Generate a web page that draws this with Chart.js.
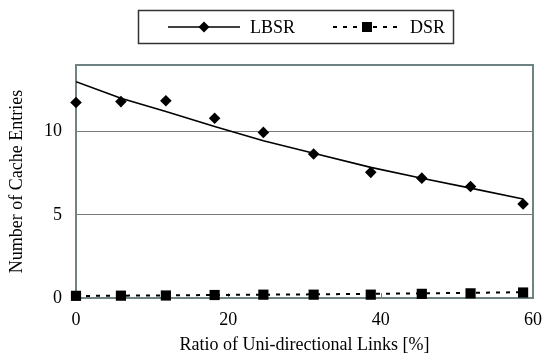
<!DOCTYPE html>
<html>
<head>
<meta charset="utf-8">
<script src="https://cdn.jsdelivr.net/npm/chart.js@4/dist/chart.umd.min.js"></script>
<style>
  html, body { margin: 0; padding: 0; background: #ffffff; }
  #wrap { width: 553px; height: 356px; position: relative; }
</style>
</head>
<body>
<div id="wrap"><canvas id="c" width="553" height="356"></canvas></div>
<script>
// ---- data ----
const ratioValues = [0, 5.9, 11.8, 18.2, 24.6, 31.2, 38.7, 45.4, 51.8, 58.7];
const lbsrValues  = [11.75, 11.8, 11.85, 10.8, 9.95, 8.65, 7.55, 7.2, 6.7, 5.65];
const lbsrTrend   = [13.0, 12.0, 11.2, 10.3, 9.45, 8.7, 7.85, 7.2, 6.6, 5.95];
const dsrValues   = [0.13, 0.14, 0.15, 0.18, 0.2, 0.2, 0.2, 0.25, 0.28, 0.33];
const dsrTrend    = [0.12, 0.14, 0.16, 0.18, 0.2, 0.22, 0.25, 0.28, 0.31, 0.35];
const xTickValues = [0, 20, 40, 60];
const yTickValues = [0, 5, 10];
const seriesNames = ['LBSR', 'DSR'];
const xTitle = 'Ratio of Uni-directional Links [%]';
const yTitle = 'Number of Cache Entries';

const FONT = "'Liberation Serif', 'Times New Roman', serif";
const pts = (xs, ys) => xs.map((x, i) => ({ x: x, y: ys[i] }));

const frameColor = '#6F8383';
const gridColor = '#7A7A7A';

const framePlugin = {
  id: 'frame',
  beforeDatasetsDraw(chart) {
    const ctx = chart.ctx;
    const a = chart.chartArea;
    const xs = chart.scales.x;
    ctx.save();
    ctx.strokeStyle = frameColor;
    ctx.lineWidth = 1;
    xTickValues.forEach(v => {
      const px = Math.round(xs.getPixelForValue(v)) + 0.5;
      ctx.beginPath();
      ctx.moveTo(px, a.bottom);
      ctx.lineTo(px, a.bottom - 5);
      ctx.stroke();
    });
    ctx.lineWidth = 2;
    ctx.strokeStyle = frameColor;
    ctx.strokeRect(a.left, a.top, a.right - a.left, a.bottom - a.top);
    ctx.restore();
  }
};

const legendPlugin = {
  id: 'customLegend',
  afterDraw(chart) {
    const ctx = chart.ctx;
    ctx.save();
    ctx.strokeStyle = '#333333';
    ctx.lineWidth = 1.5;
    ctx.strokeRect(138.5, 10.5, 315, 33);
    const cy = 27;
    ctx.strokeStyle = '#000';
    ctx.lineWidth = 1.5;
    ctx.setLineDash([]);
    ctx.beginPath(); ctx.moveTo(168, cy); ctx.lineTo(240, cy); ctx.stroke();
    ctx.fillStyle = '#000';
    ctx.beginPath();
    ctx.moveTo(204, cy - 5.5); ctx.lineTo(209.5, cy); ctx.lineTo(204, cy + 5.5); ctx.lineTo(198.5, cy);
    ctx.closePath(); ctx.fill();
    ctx.lineWidth = 2;
    ctx.setLineDash([4, 6]);
    ctx.beginPath(); ctx.moveTo(333, cy); ctx.lineTo(402, cy); ctx.stroke();
    ctx.setLineDash([]);
    ctx.fillRect(362, cy - 5, 10, 10);
    ctx.font = '18px ' + FONT;
    ctx.textBaseline = 'middle';
    ctx.textAlign = 'left';
    ctx.fillText(seriesNames[0], 250, cy + 1);
    ctx.fillText(seriesNames[1], 410, cy + 1);
    ctx.restore();
  }
};

new Chart(document.getElementById('c'), {
  type: 'scatter',
  data: {
    datasets: [
      {
        label: seriesNames[0] + ' trend',
        data: pts(ratioValues, lbsrTrend),
        showLine: true,
        borderColor: '#000',
        borderWidth: 1.6,
        pointRadius: 0,
        tension: 0
      },
      {
        label: seriesNames[0],
        data: pts(ratioValues, lbsrValues),
        showLine: false,
        clip: false,
        pointStyle: 'rectRot',
        pointRadius: 5.8,
        backgroundColor: '#000',
        borderColor: '#000',
        borderWidth: 0
      },
      {
        label: seriesNames[1] + ' trend',
        data: pts(ratioValues, dsrTrend),
        showLine: true,
        borderColor: '#000',
        borderWidth: 2,
        borderDash: [4, 6],
        pointRadius: 0,
        tension: 0
      },
      {
        label: seriesNames[1],
        data: pts(ratioValues, dsrValues),
        showLine: false,
        clip: false,
        pointStyle: 'rect',
        pointRadius: 7.2,
        backgroundColor: '#000',
        borderColor: '#000',
        borderWidth: 0
      }
    ]
  },
  options: {
    responsive: false,
    animation: false,
    layout: { padding: { top: 65, right: 10, left: 0, bottom: 0 } },
    plugins: {
      legend: { display: false },
      tooltip: { enabled: false }
    },
    scales: {
      x: {
        type: 'linear',
        min: 0,
        max: 60,
        afterBuildTicks(scale) { scale.ticks = xTickValues.map(v => ({ value: v })); },
        afterFit(scale) { scale.height = 58; },
        grid: { display: false, drawTicks: false },
        border: { display: false },
        ticks: {
          padding: 11,
          color: '#000',
          font: { family: FONT, size: 18 },
          maxRotation: 0
        },
        title: {
          display: true,
          text: xTitle,
          color: '#000',
          font: { family: FONT, size: 18, lineHeight: 1.2 },
          padding: { top: 0, bottom: 0 }
        }
      },
      y: {
        type: 'linear',
        min: 0,
        max: 14,
        afterBuildTicks(scale) { scale.ticks = yTickValues.map(v => ({ value: v })); },
        afterFit(scale) { scale.width = 76; },
        grid: {
          drawTicks: false,
          color: ctx => (ctx.tick && ctx.tick.value === 0) ? 'rgba(0,0,0,0)' : gridColor,
          lineWidth: 1
        },
        border: { display: false },
        ticks: {
          padding: 14,
          color: '#000',
          font: { family: FONT, size: 18 }
        },
        title: {
          display: true,
          text: yTitle,
          color: '#000',
          font: { family: FONT, size: 18, lineHeight: 1.2 },
          padding: { top: 6, bottom: 0 }
        }
      }
    }
  },
  plugins: [framePlugin, legendPlugin]
});
</script>
</body>
</html>
